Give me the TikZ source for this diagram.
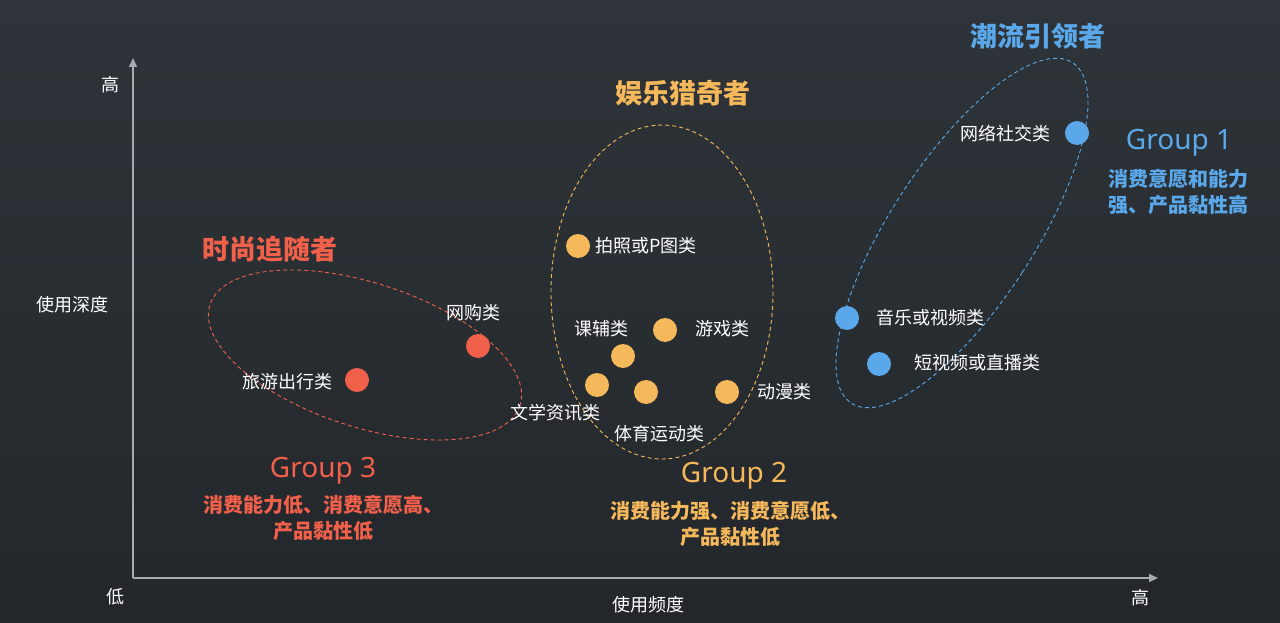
\documentclass[tikz,border=0pt]{standalone}
\usepackage{fontspec}
\setmainfont{Noto Sans CJK SC}
\newfontfamily\latfont{Noto Sans}
\usetikzlibrary{arrows.meta}
\definecolor{bgA}{HTML}{2E3439}
\definecolor{bgB}{HTML}{23272C}
\definecolor{cred}{HTML}{F0604A}
\definecolor{cyel}{HTML}{F5B85A}
\definecolor{cblu}{HTML}{5AA8EA}
\definecolor{axis}{HTML}{A8ABAE}
\tikzset{
  lbl/.style={text=white,font=\fontsize{18}{21}\selectfont},
  ttl/.style={font=\fontsize{27}{30}\selectfont\bfseries},
  grp/.style={font=\latfont\fontsize{28}{32}\selectfont},
  desc/.style={font=\fontsize{20}{26}\selectfont\bfseries,align=center},
  dot/.style={circle,minimum size=24pt,inner sep=0pt},
  ell/.style={dashed,line width=0.9pt,dash pattern=on 4pt off 3pt},
  ax/.style={draw=axis,line width=1.6pt,-{Triangle[length=9pt,width=8pt]}}
}
\begin{document}
\begin{tikzpicture}[x=1pt,y=-1pt]
\useasboundingbox (0,0) rectangle (1280,623);
\shade[top color=bgA,bottom color=bgB] (0,0) rectangle (1280,623);
\coordinate (o) at (133,578);
\coordinate (yt) at (133,58);
\coordinate (xt) at (1158,578);
\draw[ax] (o) -- (yt);
\draw[ax] (o) -- (xt);
\node[lbl] (yh) at (110,85) {高};
\node[lbl] (yl) at (115,597) {低};
\node[lbl] (xh) at (1140,598) {高};
\node[lbl] (yn) at (72,305) {使用深度};
\node[lbl] (xn) at (648,605) {使用频度};
% ellipses
\draw[ell,cred] (365,355) ellipse[x radius=163,y radius=72,rotate=-18];
\draw[ell,cyel] (662,292) ellipse[x radius=111,y radius=167];
\draw[ell,cblu] (962,233) ellipse[x radius=72,y radius=203,rotate=-33];
% dots
\node[dot,fill=cred] (d1) at (478,346) {};
\node[dot,fill=cred] (d2) at (357,380) {};
\node[dot,fill=cyel] (d3) at (578,246) {};
\node[dot,fill=cyel] (d4) at (665,330) {};
\node[dot,fill=cyel] (d5) at (623,356) {};
\node[dot,fill=cyel] (d6) at (597,385) {};
\node[dot,fill=cyel] (d7) at (646,392) {};
\node[dot,fill=cyel] (d8) at (727,392) {};
\node[dot,fill=cblu] (d9) at (1077,133) {};
\node[dot,fill=cblu] (d10) at (847,318) {};
\node[dot,fill=cblu] (d11) at (879,364) {};
% labels
\node[lbl] (l1) at (473,313) {网购类};
\node[lbl] (l2) at (287,382) {旅游出行类};
\node[lbl] (l3) at (646,246) {拍照或P图类};
\node[lbl] (l4) at (601,329) {课辅类};
\node[lbl] (l5) at (722,329) {游戏类};
\node[lbl] (l6) at (784,392) {动漫类};
\node[lbl] (l7) at (555,413) {文学资讯类};
\node[lbl] (l8) at (659,434) {体育运动类};
\node[lbl] (l9) at (1005,134) {网络社交类};
\node[lbl] (l10) at (930,318) {音乐或视频类};
\node[lbl] (l11) at (977,363) {短视频或直播类};
% titles
\node[ttl,text=cred] (t1) at (270,249) {时尚追随者};
\node[ttl,text=cyel] (t2) at (683,93) {娱乐猎奇者};
\node[ttl,text=cblu] (t3) at (1038,36) {潮流引领者};
\node[grp,text=cblu] (g1) at (1179,143) {Group 1};
\node[desc,text=cblu] (g1d) at (1178,192) {消费意愿和能力\\强、产品黏性高};
\node[grp,text=cred] (g3) at (323,471) {Group 3};
\node[desc,text=cred] (g3d) at (323,518) {消费能力低、消费意愿高、\\产品黏性低};
\node[grp,text=cyel] (g2) at (734,476) {Group 2};
\node[desc,text=cyel] (g2d) at (730,524) {消费能力强、消费意愿低、\\产品黏性低};
\end{tikzpicture}
\end{document}
